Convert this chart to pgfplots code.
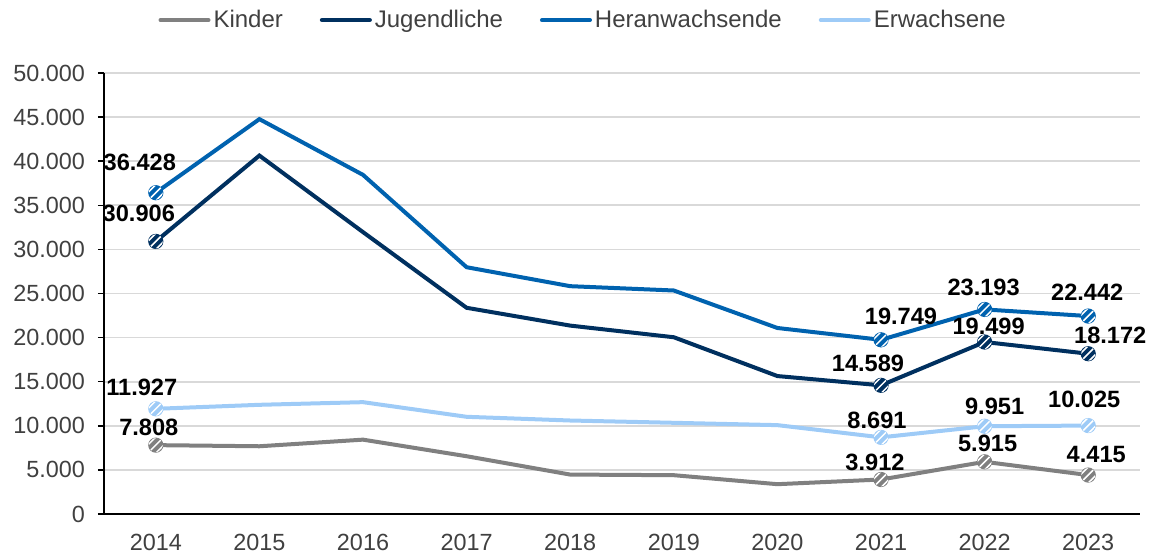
\documentclass[border=0pt]{standalone}
\usepackage{fontspec}
\setmainfont{Liberation Sans}
\usepackage{pgfplots}
\pgfplotsset{compat=1.18}
\usepackage{pgfplotstable}

\definecolor{cKinder}{HTML}{808080}
\definecolor{cJug}{HTML}{00305F}
\definecolor{cHeran}{HTML}{0062AF}
\definecolor{cErw}{HTML}{9ECBF7}
\definecolor{txt}{HTML}{404040}
\definecolor{gridc}{HTML}{D9D9D9}

\pgfdeclareplotmark{hatchcircle}{%
  \pgfpathcircle{\pgfpointorigin}{\pgfplotmarksize}%
  \pgfusepathqfillstroke
  \begin{pgfscope}
    \pgfpathcircle{\pgfpointorigin}{\pgfplotmarksize}%
    \pgfusepathqclip
    \pgfsetstrokecolor{white}%
    \pgfsetlinewidth{0.75pt}%
    \pgfpathmoveto{\pgfqpoint{-7.5pt}{-3.5pt}}\pgfpathlineto{\pgfqpoint{3.5pt}{7.5pt}}%
    \pgfpathmoveto{\pgfqpoint{-5.5pt}{-5.5pt}}\pgfpathlineto{\pgfqpoint{5.5pt}{5.5pt}}%
    \pgfpathmoveto{\pgfqpoint{-3.5pt}{-7.5pt}}\pgfpathlineto{\pgfqpoint{7.5pt}{3.5pt}}%
    \pgfusepathqstroke
  \end{pgfscope}
}

% full series
\pgfplotstableread{
x y
0 7808
1 7680
2 8430
3 6550
4 4470
5 4400
6 3380
7 3912
8 5915
9 4415
}\kinder
\pgfplotstableread{
x y
0 30906
1 40640
2 31960
3 23380
4 21360
5 20040
6 15640
7 14589
8 19499
9 18172
}\jug
\pgfplotstableread{
x y
0 36428
1 44770
2 38450
3 27980
4 25830
5 25340
6 21090
7 19749
8 23193
9 22442
}\heran
\pgfplotstableread{
x y
0 11927
1 12380
2 12680
3 11020
4 10600
5 10340
6 10075
7 8691
8 9951
9 10025
}\erw

% labelled points: x y label dx dy (dx,dy in px, dy up)
\pgfplotstableread{
x y lab dx dy
0 7808 7.808 -7 18
7 3912 3.912 -6 17
8 5915 5.915 3 18
9 4415 4.415 8 21
}\kinderL
\pgfplotstableread{
x y lab dx dy
0 30906 30.906 -17 28
7 14589 14.589 -13 22
8 19499 19.499 4 16
9 18172 18.172 22 18
}\jugL
\pgfplotstableread{
x y lab dx dy
0 36428 36.428 -16 30
7 19749 19.749 20 23
8 23193 23.193 -1 22
9 22442 22.442 -1 24
}\heranL
\pgfplotstableread{
x y lab dx dy
0 11927 11.927 -14 21
7 8691 8.691 -4 17
8 9951 9.951 10 20
9 10025 10.025 -4 26
}\erwL

\pgfplotsset{
  lab/.style={
    only marks, forget plot,
    mark=hatchcircle, mark size=3.5pt,
    mark options={draw=#1, fill=#1, line width=0.6pt},
    point meta=explicit symbolic,
    visualization depends on={\thisrow{dx} \as \ddx},
    visualization depends on={\thisrow{dy} \as \ddy},
    nodes near coords,
    nodes near coords style={
      font=\fontsize{11.8}{13}\selectfont\bfseries,
      text=black, anchor=center, inner sep=0pt,
      xshift=0.5*\ddx pt, yshift=0.5*\ddy pt},
  },
}

\begin{document}
\begin{tikzpicture}
\begin{axis}[
  at={(0,0)}, anchor=south west,
  scale only axis,
  width=518pt, height=220.5pt,
  xmin=-0.5, xmax=9.5,
  ymin=0, ymax=50000,
  scaled y ticks=false,
  axis lines=left,
  axis line style={-, black, line width=0.75pt},
  xtick={0,...,9},
  xticklabels={2014,2015,2016,2017,2018,2019,2020,2021,2022,2023},
  major x tick style={draw=none},
  ytick={0,5000,...,50000},
  yticklabels={0,5.000,10.000,15.000,20.000,25.000,30.000,35.000,40.000,45.000,50.000},
  tick align=outside,
  major tick length=3pt,
  major y tick style={black, line width=0.75pt},
  ymajorgrids,
  major grid style={gridc, line width=0.8pt},
  tick label style={font=\fontsize{11.7}{13}\selectfont, text=txt},
  yticklabel style={xshift=-3pt},
  xticklabel style={yshift=-3.5pt},
  legend columns=4,
  legend style={draw=none, fill=none, at={(0.463,1.12)}, anchor=center,
    font=\fontsize{12}{13}\selectfont, text=txt,
    /tikz/every even column/.append style={column sep=17pt},
    /tikz/every odd column/.append style={column sep=0pt},
    nodes={inner sep=1.5pt},
    inner sep=0pt},
  legend image code/.code={\draw[#1, line width=2pt, line cap=round] (0pt,0pt) -- (24pt,0pt);},
  legend cell align=left,
]
\addplot[cKinder, line width=2pt] table[x=x,y=y] {\kinder};
\addlegendentry{Kinder}
\addplot[cJug, line width=2pt] table[x=x,y=y] {\jug};
\addlegendentry{Jugendliche}
\addplot[cHeran, line width=2pt] table[x=x,y=y] {\heran};
\addlegendentry{Heranwachsende}
\addplot[cErw, line width=2pt] table[x=x,y=y] {\erw};
\addlegendentry{Erwachsene}

\addplot[lab=cKinder] table[x=x,y=y,meta=lab] {\kinderL};
\addplot[lab=cJug] table[x=x,y=y,meta=lab] {\jugL};
\addplot[lab=cHeran] table[x=x,y=y,meta=lab] {\heranL};
\addplot[lab=cErw] table[x=x,y=y,meta=lab] {\erwL};
\end{axis}
\pgfresetboundingbox
\path[use as bounding box] (-52pt,-21pt) rectangle (522.5pt,257pt);
\end{tikzpicture}
\end{document}
